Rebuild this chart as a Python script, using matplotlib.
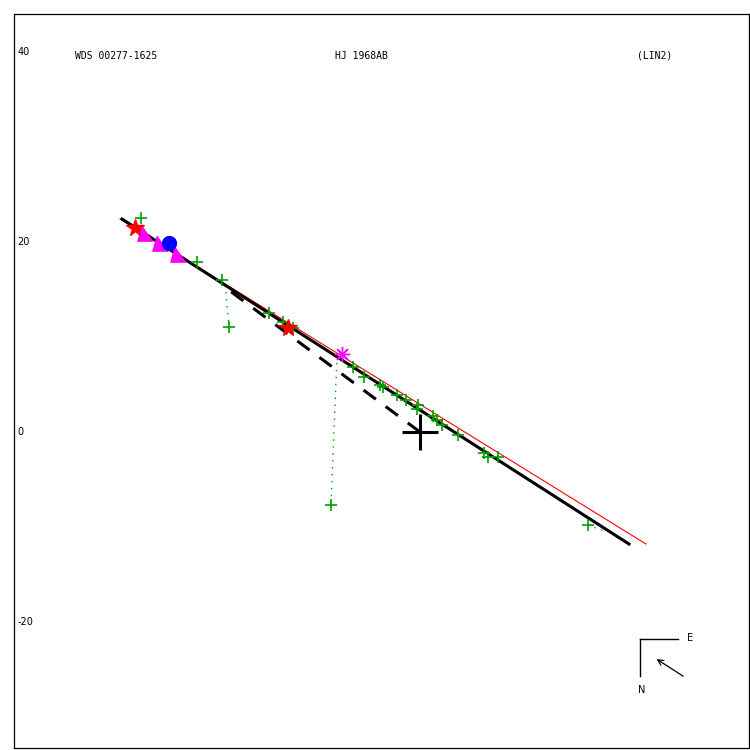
import matplotlib
matplotlib.use("Agg")
import matplotlib.pyplot as plt

# ---- data (arcsec units) ----
obs_x = [-29.37, -23.47, -20.84, -20.11, -15.89, -14.42, -13.37, -9.37, -7.05, -5.89,
         -4.21, -3.89, -2.42, -1.47, -0.32, -0.21, 1.37, 1.79, 2.32, 4.0, 6.74, 7.16,
         8.21, 17.68]
obs_y = [22.53, 17.89, 16.0, 11.05, 12.53, 11.58, 10.95, -7.68, 6.84, 5.79,
         4.95, 4.74, 3.89, 3.37, 2.42, 2.84, 1.68, 1.26, 0.74, -0.32, -2.21, -2.63,
         -2.63, -9.79]
star_x = [-30.0, -13.89]
star_y = [21.47, 10.95]
ast_x = [-8.21]
ast_y = [8.21]
tri_x = [-28.95, -27.37, -25.47]
tri_y = [20.95, 19.89, 18.74]
circ_x = [-26.42]
circ_y = [19.89]
fit_x = [-31.37, 22.0]
fit_y = [22.42, -11.79]
old_x = [-31.58, 23.79]
old_y = [22.42, -11.79]
dash_x = [0.0, -20.84]
dash_y = [0.0, 15.47]
oc_lines = [([-20.5, -20.11], [15.45, 11.05]),
            ([-8.74, -9.37], [8.0, -7.68]),
            ([17.68, 19.68], [-9.79, -10.53])]
ytick_vals = [40, 20, 0, -20]
titles = ["WDS 00277-1625", "HJ 1968AB", "(LIN2)"]

fig = plt.figure(figsize=(7.5, 7.5), dpi=100)
ax = fig.add_axes([14/750, 2/750, 735/750, 734/750])
ax.set_xlim(-42.74, 34.63)
ax.set_ylim(-33.26, 44.0)
ax.set_xticks([]); ax.set_yticks([])
for s in ax.spines.values():
    s.set_linewidth(0.9)

green = "#00a000"
# O-C dotted lines
for xs, ys in oc_lines:
    ax.plot(xs, ys, color=green, lw=1.0, ls=(0, (1, 4)))
# lines
ax.plot(old_x, old_y, color="red", lw=0.8, zorder=2)
ax.plot(fit_x, fit_y, color="black", lw=2.2, zorder=3)
ax.plot(dash_x, dash_y, color="black", lw=2.2, ls=(0, (5, 4)), zorder=3)
# observations
ax.plot(obs_x, obs_y, ls="none", marker="+", color=green, ms=9, mew=1.2, zorder=4)
ax.plot(tri_x, tri_y, ls="none", marker=[(-0.4, 1), (-1, -1), (1, -1)], color="magenta",
        ms=11, zorder=4)
ax.plot(circ_x, circ_y, ls="none", marker="o", color="blue", ms=10, zorder=5)
ax.plot(star_x, star_y, ls="none", marker="*", color="red", ms=13, zorder=5)
ax.plot(ast_x, ast_y, ls="none", marker=(8, 2, 0), color="magenta", ms=11, mew=1.0, zorder=5)
# primary
ax.plot([0], [0], marker="+", color="black", ms=26, mew=2.2, zorder=6)

# tick labels
for v in ytick_vals:
    ax.text(-42.4, v, str(v), fontsize=7, family="DejaVu Sans", va="center", ha="left")

# titles
ax.text(-36.3, 39.6, titles[0], fontsize=7, family="DejaVu Sans Mono", va="center", ha="left")
ax.text(-8.9, 39.6, titles[1], fontsize=7, family="DejaVu Sans Mono", va="center", ha="left")
ax.text(22.8, 39.6, titles[2], fontsize=7, family="DejaVu Sans Mono", va="center", ha="left")

# compass
ax.plot([23.16, 27.16], [-21.79, -21.79], color="black", lw=1)
ax.plot([23.16, 23.16], [-21.79, -25.68], color="black", lw=1)
ax.text(28.1, -21.7, "E", fontsize=7, family="DejaVu Sans", va="center", ha="left")
ax.text(22.9, -27.2, "N", fontsize=7, family="DejaVu Sans", va="center", ha="left")
ax.annotate("", xy=(24.9, -23.9), xytext=(27.7, -25.7),
            arrowprops=dict(arrowstyle="->", color="black", lw=0.9, shrinkA=0, shrinkB=0))

fig.savefig("out.png", dpi=100)
